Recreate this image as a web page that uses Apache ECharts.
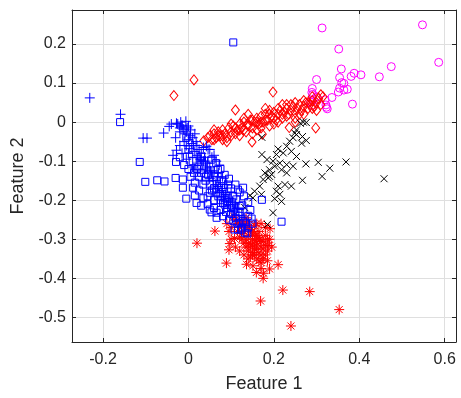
<!DOCTYPE html>
<html>
<head>
<meta charset="utf-8">
<script src="https://cdn.jsdelivr.net/npm/echarts@6/dist/echarts.min.js"></script>
<style>
  html, body { margin: 0; padding: 0; background: #fff; }
  #chart { width: 461px; height: 398px; }
</style>
</head>
<body>
<div id="chart"></div>
<script>
// points, [feature1, feature2]
const bluePlus = [
  [-0.231, 0.062], [-0.159, 0.02], [-0.106, -0.041], [-0.097, -0.041], [-0.058, -0.028], [-0.045, -0.011],
  [-0.028, -0.003], [-0.006, 0.002], [-0.036, -0.085], [-0.028, -0.072], [-0.04, -0.005], [-0.015, -0.012],
  [-0.025, -0.005], [-0.018, 0.0], [-0.012, -0.018], [-0.02, -0.025], [-0.008, -0.03], [-0.003, -0.015],
  [0.0, -0.045], [-0.01, -0.05], [0.004, -0.035], [0.008, -0.055], [0.012, -0.06], [0.002, -0.068],
  [0.015, -0.075], [0.018, -0.05], [0.02, -0.085], [0.025, -0.07], [0.01, -0.09], [0.028, -0.095],
  [0.03, -0.08], [0.032, -0.11], [0.035, -0.1], [0.022, -0.105], [0.04, -0.12], [0.038, -0.09],
  [0.045, -0.105], [0.045, -0.13], [0.05, -0.115], [0.05, -0.145], [0.055, -0.13], [0.058, -0.15],
  [0.06, -0.125], [0.063, -0.16], [0.068, -0.14], [0.07, -0.165], [0.072, -0.18], [0.075, -0.155],
  [0.08, -0.17], [0.082, -0.19], [0.085, -0.2], [0.09, -0.18], [0.093, -0.205], [0.098, -0.215],
  [0.1, -0.195], [0.105, -0.225], [0.11, -0.21], [0.06, -0.085], [0.05, -0.07], [0.072, -0.11],
  [0.015, -0.12], [0.0, -0.08], [0.035, -0.065], [0.085, -0.16], [-0.005, -0.06], [0.028, -0.125],
  [0.042, -0.062], [0.046, -0.07],
  [-0.015, -0.008], [-0.005, -0.025], [0.005, -0.02], [0.0, -0.01], [-0.02, -0.015], [0.01, -0.04],
  [0.015, -0.03], [0.02, -0.06], [0.025, -0.09], [0.03, -0.1], [0.04, -0.1], [0.043, -0.115],
  [0.052, -0.125], [0.057, -0.14], [0.065, -0.15], [0.067, -0.17], [0.077, -0.175], [0.087, -0.185],
  [0.095, -0.195], [0.103, -0.205], [0.108, -0.23], [0.115, -0.22], [0.12, -0.25], [0.125, -0.24],
  [0.13, -0.265],
  [-0.03, -0.04], [-0.02, -0.06], [-0.015, -0.08], [-0.005, -0.095], [0.01, -0.115], [0.055, -0.09],
  [0.065, -0.1], [0.07, -0.13], [0.08, -0.14], [0.09, -0.16], [0.1, -0.18]
]
const blueSquare = [
  [0.105, 0.204], [-0.16, 0.0], [-0.114, -0.102], [-0.029, -0.102], [-0.101, -0.153], [-0.073, -0.149],
  [-0.056, -0.152], [-0.03, -0.143], [-0.013, -0.147], [-0.013, -0.168], [0.011, -0.168],
  [-0.005, -0.196], [0.015, -0.188], [0.172, -0.199], [0.218, -0.255], [0.148, -0.247], [0.128, -0.168],
  [0.093, -0.16], [0.03, -0.214], [0.054, -0.231], [0.066, -0.245], [0.081, -0.241], [0.105, -0.19],
  [0.126, -0.213], [0.108, -0.275], [0.124, -0.275], [0.132, -0.283], [0.105, -0.253], [0.128, -0.253],
  [0.116, -0.275], [0.066, -0.232], [0.081, -0.207], [0.12, -0.215], [0.05, -0.181], [0.019, -0.207],
  [0.054, -0.096], [0.03, -0.088], [0.046, -0.134], [0.069, -0.122], [0.116, -0.173], [0.05, -0.224],
  [0.085, -0.211], [0.101, -0.211], [0.112, -0.198], [0.04, -0.15], [0.06, -0.17], [0.07, -0.19],
  [0.09, -0.22], [0.1, -0.235], [0.11, -0.245], [0.095, -0.25], [0.115, -0.26], [0.02, -0.12],
  [0.035, -0.16], [0.075, -0.2], [0.088, -0.23], [0.06, -0.2], [0.045, -0.19], [0.01, -0.1],
  [0.0, -0.07], [-0.005, -0.04], [0.025, -0.14], [0.08, -0.15], [0.1, -0.17], [0.12, -0.23],
  [0.135, -0.26], [0.14, -0.24], [0.013, -0.13],
  [0.03, -0.13], [0.04, -0.14], [0.05, -0.16], [0.055, -0.175], [0.065, -0.18], [0.075, -0.185],
  [0.085, -0.195], [0.09, -0.205], [0.1, -0.22], [0.11, -0.23], [0.12, -0.24], [0.125, -0.27],
  [0.14, -0.27], [0.138, -0.285],
  [-0.02, -0.09], [-0.01, -0.11], [0.0, -0.12], [0.005, -0.14], [0.015, -0.155], [0.025, -0.175],
  [0.035, -0.195], [0.045, -0.21], [0.06, -0.22], [0.075, -0.225], [0.065, -0.105], [0.075, -0.12],
  [0.085, -0.135], [0.095, -0.145], [0.11, -0.16], [0.12, -0.18], [0.13, -0.19], [0.14, -0.205],
  [0.145, -0.225], [0.15, -0.26]
]
const redDiamond = [
  [-0.034, 0.068], [0.013, 0.108], [0.11, 0.031], [0.149, -0.051], [0.198, 0.077], [0.298, -0.015],
  [0.036, -0.048], [0.173, -0.031], [0.315, 0.065], [0.236, -0.014],
  [0.045, -0.04], [0.05, -0.035], [0.055, -0.045], [0.06, -0.03], [0.065, -0.04], [0.07, -0.025],
  [0.075, -0.035], [0.08, -0.02], [0.085, -0.03], [0.09, -0.04], [0.095, -0.015], [0.1, -0.025],
  [0.105, -0.01], [0.11, -0.03], [0.115, -0.02], [0.12, -0.005], [0.125, -0.015], [0.13, 0.0],
  [0.135, -0.025], [0.14, -0.01], [0.145, 0.005], [0.15, -0.015], [0.155, 0.0], [0.16, 0.01],
  [0.165, -0.005], [0.17, 0.015], [0.175, 0.0], [0.18, 0.02], [0.185, 0.005], [0.19, -0.01],
  [0.195, 0.015], [0.2, 0.025], [0.205, 0.005], [0.21, 0.02], [0.215, 0.03], [0.22, 0.01],
  [0.225, 0.025], [0.23, 0.035], [0.235, 0.02], [0.24, 0.03], [0.245, 0.04], [0.25, 0.025],
  [0.255, 0.035], [0.26, 0.045], [0.265, 0.03], [0.27, 0.04], [0.275, 0.05], [0.28, 0.035],
  [0.285, 0.045], [0.29, 0.055], [0.295, 0.04], [0.3, 0.05], [0.305, 0.06], [0.31, 0.045],
  [0.2, -0.005], [0.16, -0.02], [0.12, -0.035], [0.25, 0.01], [0.09, -0.05], [0.14, 0.02],
  [0.18, 0.035], [0.22, 0.045],
  [0.06, -0.045], [0.07, -0.035], [0.08, -0.035], [0.1, -0.035], [0.11, -0.015], [0.12, -0.02],
  [0.13, -0.02], [0.14, -0.005], [0.15, 0.005], [0.16, 0.0], [0.17, 0.0], [0.18, 0.005],
  [0.19, 0.02], [0.2, 0.01], [0.21, 0.035], [0.22, 0.02], [0.23, 0.015], [0.24, 0.045],
  [0.25, 0.05], [0.26, 0.02], [0.27, 0.055], [0.28, 0.05], [0.29, 0.035],
  [0.06, -0.02], [0.08, -0.045], [0.1, -0.005], [0.13, 0.01], [0.15, -0.03], [0.17, -0.015],
  [0.19, 0.03], [0.21, 0.0], [0.23, 0.045], [0.25, 0.0], [0.27, 0.02], [0.29, 0.065],
  [0.3, 0.03], [0.31, 0.07]
]
const blackCross = [
  [0.458, -0.145], [0.369, -0.102], [0.331, -0.118], [0.304, -0.103], [0.313, -0.139], [0.267, -0.149],
  [0.275, -0.107], [0.172, -0.039], [0.276, -0.001], [0.262, -0.003], [0.249, -0.028], [0.267, -0.037],
  [0.276, -0.047], [0.237, -0.049], [0.23, -0.062], [0.21, -0.069], [0.206, -0.083], [0.222, -0.079],
  [0.241, -0.075], [0.253, -0.088], [0.184, -0.096], [0.198, -0.1], [0.214, -0.105], [0.23, -0.109],
  [0.245, -0.113], [0.23, -0.13], [0.19, -0.122], [0.179, -0.13], [0.195, -0.134], [0.175, -0.147],
  [0.187, -0.143], [0.226, -0.16], [0.241, -0.164], [0.21, -0.164], [0.206, -0.177], [0.214, -0.185],
  [0.202, -0.196], [0.218, -0.203], [0.167, -0.164], [0.155, -0.177], [0.144, -0.188], [0.151, -0.194],
  [0.198, -0.232], [0.185, -0.262], [0.172, -0.083], [0.269, 0.0], [0.253, -0.02], [0.253, -0.032],
  [0.265, -0.054], [0.202, -0.113], [0.218, -0.122], [0.171, -0.185], [0.132, -0.219], [0.19, -0.139],
  [0.245, -0.04]
]
const magentaCircle = [
  [0.313, 0.241], [0.548, 0.249], [0.352, 0.187], [0.586, 0.153], [0.475, 0.142], [0.358, 0.136],
  [0.3, 0.109], [0.354, 0.114], [0.381, 0.117], [0.388, 0.125], [0.404, 0.121], [0.447, 0.116],
  [0.359, 0.101], [0.364, 0.099], [0.354, 0.087], [0.364, 0.082], [0.372, 0.084], [0.351, 0.077],
  [0.29, 0.086], [0.289, 0.076], [0.336, 0.063], [0.384, 0.046], [0.322, 0.044], [0.325, 0.034],
  [0.292, 0.057], [0.3, 0.065], [0.286, 0.051], [0.32, 0.057], [0.323, 0.038], [0.291, 0.071],
  [0.29, 0.043]
]
const redStar = [
  [0.02, -0.31], [0.062, -0.279], [0.089, -0.361], [0.095, -0.327], [0.169, -0.458], [0.24, -0.522],
  [0.353, -0.48], [0.284, -0.434], [0.221, -0.43], [0.21, -0.365], [0.19, -0.376], [0.175, -0.4],
  [0.176, -0.387], [0.159, -0.385], [0.151, -0.368], [0.136, -0.364], [0.188, -0.316], [0.191, -0.273],
  [0.108, -0.298], [0.097, -0.311],
  [0.11, -0.25], [0.115, -0.26], [0.12, -0.27], [0.125, -0.255], [0.13, -0.28], [0.135, -0.265],
  [0.14, -0.29], [0.145, -0.275], [0.15, -0.3], [0.155, -0.285], [0.16, -0.31], [0.165, -0.295],
  [0.17, -0.32], [0.175, -0.305], [0.18, -0.29], [0.145, -0.31], [0.155, -0.325], [0.165, -0.335],
  [0.15, -0.34], [0.16, -0.35], [0.14, -0.33], [0.13, -0.31], [0.12, -0.295], [0.17, -0.34],
  [0.175, -0.325], [0.185, -0.3], [0.165, -0.28], [0.155, -0.265], [0.14, -0.255], [0.125, -0.285],
  [0.135, -0.3], [0.145, -0.32], [0.155, -0.305], [0.16, -0.325], [0.15, -0.315], [0.115, -0.28],
  [0.1, -0.27], [0.105, -0.24], [0.135, -0.245], [0.175, -0.35], [0.167, -0.3], [0.159, -0.317],
  [0.151, -0.334],
  [0.12, -0.26], [0.13, -0.26], [0.14, -0.27], [0.15, -0.28], [0.16, -0.29], [0.17, -0.305],
  [0.18, -0.315], [0.16, -0.3], [0.15, -0.29], [0.14, -0.31], [0.155, -0.34], [0.165, -0.355],
  [0.17, -0.36], [0.18, -0.34], [0.125, -0.3], [0.135, -0.32], [0.145, -0.345],
  [0.09, -0.26], [0.095, -0.28], [0.1, -0.3], [0.11, -0.32], [0.12, -0.33], [0.13, -0.34],
  [0.14, -0.35], [0.185, -0.33], [0.19, -0.3], [0.18, -0.27], [0.17, -0.26], [0.16, -0.26],
  [0.195, -0.32], [0.185, -0.355], [0.17, -0.375]
]

const xRange = [-0.2726, 0.6265], yRange = [-0.563, 0.287]
const FONT = '"Liberation Sans", Arial, Helvetica, sans-serif'
const INK = '#262626'

const PLUS = 'path://M0,-5L0,5M-5,0L5,0'
const CROSS = 'path://M-5,-5L5,5M-5,5L5,-5'
const STAR = 'path://M0,-5L0,5M-5,0L5,0M-3.5,-3.5L3.5,3.5M-3.5,3.5L3.5,-3.5'

// only label ticks that sit on the step, not the odd min/max
const onStep = (step) => (v) => {
  const k = v / step
  return Math.abs(k - Math.round(k)) < 1e-6 ? String(+v.toFixed(2)) : ''
}

const boxAxis = (pos) => ({
  position: pos, axisLine: { show: true, onZero: false, lineStyle: { color: INK } },
  axisTick: { show: true, inside: true, length: 4, lineStyle: { color: INK } },
  axisLabel: { show: false }, splitLine: { show: false },
})

const hollow = (name, data, symbol, size, color, z) => ({
  name, type: 'scatter', data, symbol, symbolSize: size, z,
  itemStyle: { color: 'transparent', borderColor: color, borderWidth: 1, opacity: 1 },
  emphasis: { disabled: true },
})

const chart = echarts.init(document.getElementById('chart'), null, { renderer: 'canvas' })
chart.setOption({
  animation: false,
  textStyle: { fontFamily: FONT },
  grid: { left: 72, right: 5, top: 10, bottom: 56 },
  xAxis: [{
    type: 'value', min: xRange[0], max: xRange[1], splitNumber: 5,
    name: 'Feature 1', nameLocation: 'middle', nameGap: 33,
    nameTextStyle: { color: INK, fontSize: 18, fontFamily: FONT },
    axisLine: { show: true, onZero: false, lineStyle: { color: INK } },
    axisTick: { show: true, inside: true, length: 4, lineStyle: { color: INK } },
    axisLabel: { color: INK, fontSize: 16, margin: 10, fontFamily: FONT, formatter: onStep(0.2) },
    splitLine: { show: true, lineStyle: { color: '#dfdfdf' } },
  }, { type: 'value', min: xRange[0], max: xRange[1], splitNumber: 5, ...boxAxis('top') }],
  yAxis: [{
    type: 'value', min: yRange[0], max: yRange[1], splitNumber: 8,
    name: 'Feature 2', nameLocation: 'middle', nameGap: 30,
    nameTextStyle: { color: INK, fontSize: 18, fontFamily: FONT },
    axisLine: { show: true, onZero: false, lineStyle: { color: INK } },
    axisTick: { show: true, inside: true, length: 4, lineStyle: { color: INK } },
    axisLabel: { color: INK, fontSize: 16, margin: 6, fontFamily: FONT, formatter: onStep(0.1) },
    splitLine: { show: true, lineStyle: { color: '#dfdfdf' } },
  }, { type: 'value', min: yRange[0], max: yRange[1], splitNumber: 8, ...boxAxis('right') }],
  series: [
    hollow('circles', magentaCircle, 'circle', 8, '#ff00ff', 2),
    hollow('stars', redStar, STAR, 10, '#ff0000', 3),
    hollow('diamonds', redDiamond, 'diamond', [8, 10], '#ff0000', 4),
    hollow('crosses', blackCross, CROSS, 7, '#000000', 5),
    hollow('squares', blueSquare, 'rect', 7, '#0000ff', 6),
    hollow('plus', bluePlus, PLUS, 10, '#0000ff', 7),
  ],
})
</script>
</body>
</html>
